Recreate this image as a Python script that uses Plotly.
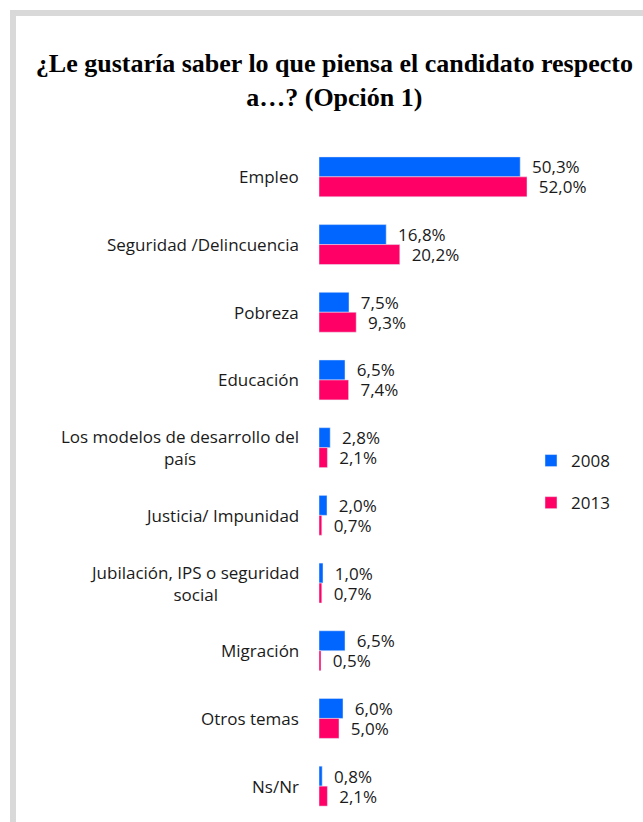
import plotly.graph_objects as go

# categories and survey values (%)
temas = ["Empleo", "Seguridad /Delincuencia", "Pobreza", "Educación",
         "Los modelos de desarrollo del<br>país", "Justicia/ Impunidad",
         "Jubilación, IPS o seguridad<br>social", "Migración", "Otros temas", "Ns/Nr"]
v2008 = [50.3, 16.8, 7.5, 6.5, 2.8, 2.0, 1.0, 6.5, 6.0, 0.8]
v2013 = [52.0, 20.2, 9.3, 7.4, 2.1, 0.7, 0.7, 0.5, 5.0, 2.1]

def etiqueta(v):
    return "\u00a0\u00a0" + f"{v:.1f}".replace(".", ",") + "%"

fig = go.Figure()
fig.add_trace(go.Bar(y=temas, x=v2008, orientation="h", name="2008",
                     marker=dict(color="#0066ff"), legendgroup="a",
                     text=[etiqueta(v) for v in v2008], textposition="outside",
                     constraintext="none", textfont=dict(size=17),
                     cliponaxis=False))
fig.add_trace(go.Bar(y=temas, x=v2013, orientation="h", name="2013",
                     marker=dict(color="#ff0066"), legendgroup="b",
                     text=[etiqueta(v) for v in v2013], textposition="outside",
                     constraintext="none", textfont=dict(size=17),
                     cliponaxis=False))

# category labels as centered annotations
for t in temas:
    fig.add_annotation(x=0, xref="paper", y=t, yref="y", text=t, showarrow=False,
                       xanchor="right", align="center", xshift=-18,
                       font=dict(size=17, color="#1a1a1a"))

# grey frame
fig.add_shape(type="rect", xref="paper", yref="paper",
              x0=(13 - 319) / 320, x1=1.2, y0=-0.2, y1=1 + (143 - 13) / 677,
              line=dict(color="#d9d9d9", width=6), layer="below")

fig.update_layout(
    width=643, height=822,
    margin=dict(l=319, r=4, t=143, b=2),
    paper_bgcolor="white", plot_bgcolor="white",
    font=dict(family="Open Sans", size=17, color="#1a1a1a"),
    title=dict(text="¿Le gustaría saber lo que piensa el candidato respecto<br>a…? (Opción 1)",
               x=0.52, xanchor="center", y=1 - 72 / 822, yanchor="top", yref="container",
               font=dict(family="Liberation Serif", size=26, color="black", weight="bold")),
    barmode="group", bargap=0.41, bargroupgap=0,
    xaxis=dict(range=[0, 80], visible=False),
    yaxis=dict(autorange="reversed", showticklabels=False, showline=False,
               showgrid=False, zeroline=False, ticks=""),
    legend=dict(x=(531 - 319) / 320, y=1 - (443 - 143) / 677, xanchor="left", yanchor="top",
                tracegroupgap=17, font=dict(size=17), bgcolor="rgba(0,0,0,0)"),
)

fig.write_html("out.html", config={"displayModeBar": False},
               post_script="document.body.style.margin='0';")
